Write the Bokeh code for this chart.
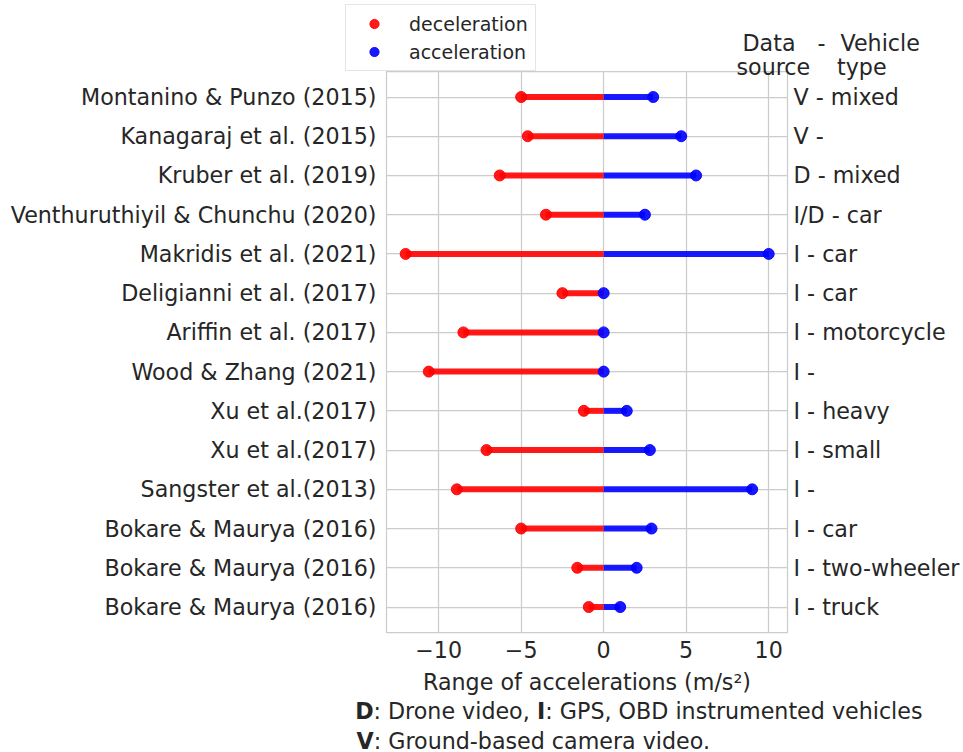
from bokeh.plotting import figure
from bokeh.models import (ColumnDataSource, Range1d, FixedTicker, LinearAxis,
                          Legend, LegendItem, Label)
from bokeh.layouts import column, row
from bokeh.embed import file_html
from bokeh.resources import INLINE

# Studies, listed top to bottom
studies = [
    "Montanino & Punzo (2015)",
    "Kanagaraj et al. (2015)",
    "Kruber et al. (2019)",
    "Venthuruthiyil & Chunchu (2020)",
    "Makridis et al. (2021)",
    "Deligianni et al. (2017)",
    "Ariffin et al. (2017)",
    "Wood & Zhang (2021)",
    "Xu et al.(2017)",
    "Xu et al.(2017)",
    "Sangster et al.(2013)",
    "Bokare & Maurya (2016)",
    "Bokare & Maurya (2016)",
    "Bokare & Maurya (2016)",
]
source_type = [
    "V - mixed", "V -", "D - mixed", "I/D - car", "I - car", "I - car",
    "I - motorcycle", "I -", "I - heavy", "I - small", "I -", "I - car",
    "I - two-wheeler", "I - truck",
]
deceleration = [-5.0, -4.6, -6.3, -3.5, -12.0, -2.5, -8.5, -10.6, -1.2, -7.1, -8.9, -5.0, -1.6, -0.9]
acceleration = [3.0, 4.7, 5.6, 2.5, 10.0, 0.0, 0.0, 0.0, 1.4, 2.8, 9.0, 2.9, 2.0, 1.0]
x_ticks = [-10, -5, 0, 5, 10]

W, H = 963, 752
n = len(studies)
rows = [n - 1 - i for i in range(n)]          # first study at the top
zeros = [0.0] * n

src = ColumnDataSource(dict(y=rows, dec=deceleration, acc=acceleration, zero=zeros))

TEXT = "#262626"
GRID = "#cccccc"
FONT = "DejaVu Sans"
FS = "22.2px"
RED = "red"
BLUE = "blue"
LW = 6
MS = 11

p = figure(width=W, height=H, output_backend="svg", toolbar_location=None,
           x_range=Range1d(-13.16, 11.14), y_range=Range1d(-0.65, n - 1 + 0.65),
           min_border_left=386, min_border_right=176,
           min_border_top=71, min_border_bottom=120)
p.background_fill_color = "white"
p.border_fill_color = "white"
p.outline_line_color = GRID
p.outline_line_width = 1.25

# dumbbell bars
p.segment(x0="dec", y0="y", x1="zero", y1="y", source=src,
          line_color=RED, line_alpha=0.9, line_width=LW, line_cap="butt")
p.segment(x0="zero", y0="y", x1="acc", y1="y", source=src,
          line_color=BLUE, line_alpha=0.9, line_width=LW, line_cap="butt")
p.scatter(x="dec", y="y", source=src, size=MS, marker="circle",
          fill_color=RED, line_color=RED, fill_alpha=0.9, line_alpha=0.9)
p.scatter(x="acc", y="y", source=src, size=MS, marker="circle",
          fill_color=BLUE, line_color=BLUE, fill_alpha=0.9, line_alpha=0.9)

# axes
p.xaxis.ticker = FixedTicker(ticks=x_ticks)
p.xaxis.major_label_overrides = {t: (str(t).replace("-", "\u2212")) for t in x_ticks}
p.xaxis.axis_label = "Range of accelerations (m/s\u00b2)"
p.yaxis.ticker = FixedTicker(ticks=rows)
p.yaxis.major_label_overrides = {r: s for r, s in zip(rows, studies)}

right = LinearAxis(ticker=FixedTicker(ticks=rows),
                   major_label_overrides={r: s for r, s in zip(rows, source_type)})
p.add_layout(right, "right")

for ax in [p.xaxis[0], p.yaxis[0], right]:
    ax.axis_line_color = None
    ax.major_tick_line_color = None
    ax.minor_tick_line_color = None
    ax.major_tick_in = 0
    ax.major_tick_out = 0
    ax.major_label_text_font = FONT
    ax.major_label_text_font_size = FS
    ax.major_label_text_color = TEXT
    ax.axis_label_text_font = FONT
    ax.axis_label_text_font_size = FS
    ax.axis_label_text_font_style = "normal"
    ax.axis_label_text_color = TEXT

p.xaxis.major_label_standoff = 8
p.xaxis.axis_label_standoff = 8
p.yaxis.major_label_standoff = 10
right.major_label_standoff = 6

p.xgrid.ticker = FixedTicker(ticks=x_ticks)
p.ygrid.ticker = FixedTicker(ticks=rows)
for g in [p.xgrid[0], p.ygrid[0]]:
    g.grid_line_color = GRID
    g.grid_line_width = 1.25

# transparent sheet over the whole chart, in page pixels (y grows downward),
# carrying the legend, the column header and the source key
o = figure(width=W, height=H, output_backend="svg", toolbar_location=None,
           x_range=Range1d(0, W), y_range=Range1d(H, 0),
           x_axis_location=None, y_axis_location=None,
           min_border=0, min_border_left=0, min_border_right=0,
           min_border_top=0, min_border_bottom=0)
o.background_fill_color = None
o.border_fill_color = None
o.outline_line_color = None
o.xgrid.visible = False
o.ygrid.visible = False

# hidden copies of the two series, used only as legend keys
k_dec = o.scatter(x="dec", y="y", source=src, marker="circle", visible=False,
                  fill_color=RED, line_color=RED, fill_alpha=0.9, line_alpha=0.9)
k_acc = o.scatter(x="acc", y="y", source=src, marker="circle", visible=False,
                  fill_color=BLUE, line_color=BLUE, fill_alpha=0.9, line_alpha=0.9)

legend = Legend(items=[LegendItem(label="deceleration", renderers=[k_dec]),
                       LegendItem(label="acceleration", renderers=[k_acc])],
                location=(345, H - 71), orientation="vertical",
                padding=7, margin=0, spacing=5,
                glyph_width=42, glyph_height=23, label_height=23,
                label_standoff=14,
                label_text_font=FONT, label_text_font_size="19px",
                label_text_color=TEXT,
                border_line_color=GRID, border_line_width=1,
                background_fill_color="white", background_fill_alpha=1.0)
o.add_layout(legend, "center")


def put(text, x, y, bold=False):
    o.add_layout(Label(x=x, y=y, text=text, text_font=FONT, text_font_size=FS,
                       text_color=TEXT, text_baseline="alphabetic",
                       text_align="left",
                       text_font_style="bold" if bold else "normal"))


# header over the right-hand labels
put("Data", 742, 42)
put("-", 817, 42)
put("Vehicle", 840, 42)
put("source", 736, 66)
put("type", 836.5, 66)

# key to the data source codes
put("D", 354.7, 710, bold=True)
put(": Drone video, ", 373.0, 710)
put("I", 536.5, 710, bold=True)
put(": GPS, OBD instrumented vehicles", 544.8, 710)
put("V", 356.0, 740, bold=True)
put(": Ground-based camera video.", 373.2, 740)

sheet = row(o)
sheet.margin = (-H, 0, 0, 0)
page = column(p, sheet)
open("out.html", "w").write(file_html(page, INLINE))
